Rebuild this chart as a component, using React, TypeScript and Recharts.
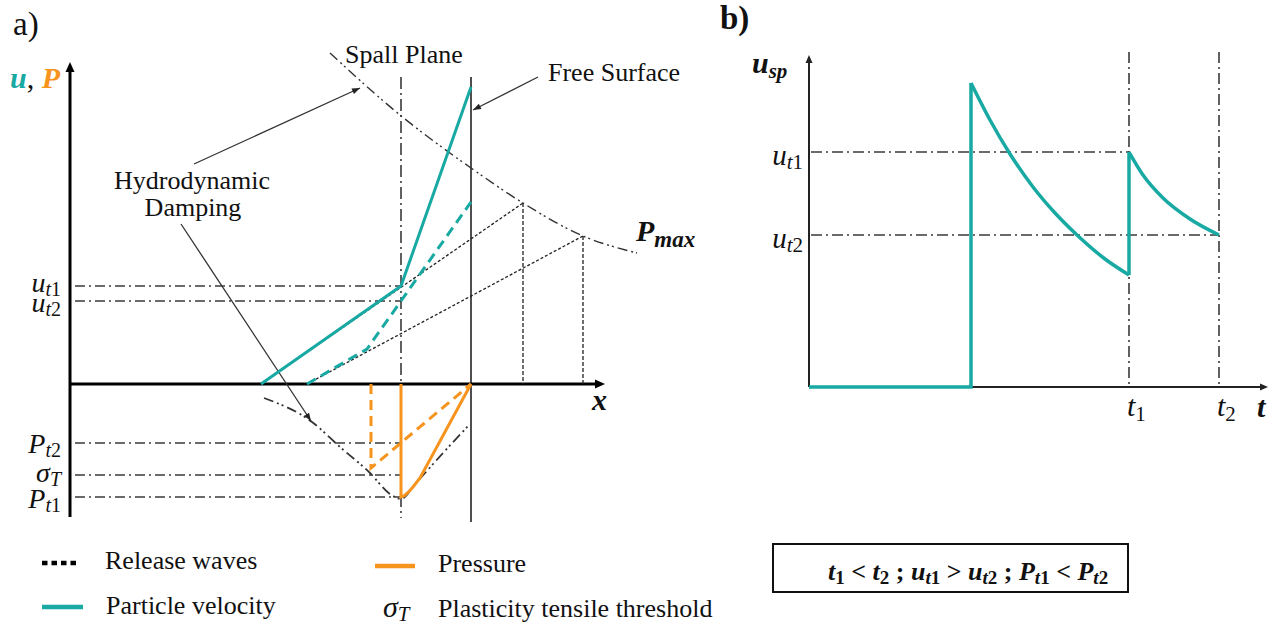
import React from 'react';
import { LineChart, Line, XAxis, YAxis, ReferenceLine, ReferenceDot } from 'recharts';

// ---------- Panel a) values (x: depth, y: u above axis, P below axis) ----------
const spallX = 331;
const freeSurfaceX = 401;
const velocitySolid = [{ x: 191, y: 0 }, { x: 331, y: 98 }, { x: 401, y: 297 }];
const velocityDashed = [{ x: 237, y: 0 }, { x: 297, y: 35 }, { x: 401, y: 182 }];
const releaseWave1 = [{ x: 191, y: 0 }, { x: 453, y: 181 }];
const releaseWave2 = [{ x: 237, y: 0 }, { x: 513, y: 148 }];
const releaseDrop1 = [{ x: 453, y: 181 }, { x: 453, y: 0 }];
const releaseDrop2 = [{ x: 513, y: 148 }, { x: 513, y: 0 }];
const pmaxCurve = [
  { x: 260, y: 331 }, { x: 330, y: 269 }, { x: 401, y: 216 },
  { x: 453, y: 181 }, { x: 513, y: 148 }, { x: 567, y: 131 },
];
const pressureSolid = [
  { x: 331, y: 0 }, { x: 331, y: -113 }, { x: 334, y: -112 }, { x: 338, y: -108.5 },
  { x: 343, y: -103 }, { x: 350, y: -94 }, { x: 401, y: 0 },
];
const pressureDashed = [{ x: 301, y: 0 }, { x: 301, y: -84 }, { x: 401, y: 0 }];
const dampingCurve = [
  { x: 194, y: -14 }, { x: 242, y: -38 }, { x: 270, y: -63 }, { x: 300, y: -89 },
  { x: 320, y: -110 }, { x: 331, y: -115 }, { x: 346, y: -99 }, { x: 373, y: -69 }, { x: 400, y: -40 },
];
const aLevels = [
  { id: 'ut1', main: 'u', sub: 't1', value: 98 },
  { id: 'ut2', main: 'u', sub: 't2', value: 83 },
  { id: 'pt2', main: 'P', sub: 't2', value: -59 },
  { id: 'sigmaT', main: 'σ', sub: 'T', value: -91 },
  { id: 'pt1', main: 'P', sub: 't1', value: -113 },
];
const aAnnotationArrows = [
  { id: 'toPmax', from: { x: 124, y: 220 }, to: { x: 290, y: 296 } },
  { id: 'toDamping', from: { x: 111, y: 160 }, to: { x: 241, y: -37 } },
  { id: 'toFree', from: { x: 468, y: 307 }, to: { x: 403, y: 274 } },
];

// ---------- Panel b) values ----------
const t1 = 320;
const t2 = 410;
const ut1 = 235;
const ut2 = 152;
const bStep = [{ x: 0, y: 0 }, { x: 162, y: 0 }, { x: 162, y: 304 }];
const bDecay1 = [
  { x: 162, y: 304 }, { x: 181, y: 267 }, { x: 201, y: 233 }, { x: 224, y: 200 },
  { x: 246, y: 174 }, { x: 268, y: 152 }, { x: 296, y: 128 }, { x: 320, y: 112 },
];
const bJump = [{ x: 320, y: 112 }, { x: 320, y: 235 }];
const bDecay2 = [{ x: 320, y: 235 }, { x: 334, y: 212 }, { x: 354, y: 189 }, { x: 381, y: 168 }, { x: 410, y: 152 }];
const bYLabels = [{ id: 'ut1', main: 'u', sub: 't1', value: ut1 }, { id: 'ut2', main: 'u', sub: 't2', value: ut2 }];
const bXLabels = [{ id: 't1', main: 't', sub: '1', value: t1 }, { id: 't2', main: 't', sub: '2', value: t2 }];

// ---------- styles ----------
const SERIF = "'Liberation Serif', 'DejaVu Serif', serif";
const TEAL = '#18a9a3';
const ORANGE = '#f7941d';
const GUIDE = '#3a3a3a';
const DASHDOT = '10 4 2 4';
const DASHDOTDOT = '10 4 2 3 2 4';
const aLabelNudge: Record<string, number> = { ut1: 6, ut2: 11, pt2: 10, sigmaT: 7, pt1: 11 };
const bLabelNudge: Record<string, number> = { ut1: 13, ut2: 13 };

type Seg = { t: string; sub?: boolean; upright?: boolean; fill?: string; bold?: boolean };

function MathText(props: { x: number; y: number; size: number; segs: Seg[]; anchor?: string; bold?: boolean; shift?: number; subScale?: number }) {
  const { x, y, size, segs, anchor = 'start', bold = false, shift = 5, subScale = 0.7 } = props;
  let cur = 0;
  return (
    <text x={x} y={y} textAnchor={anchor as any} fontFamily={SERIF} fontSize={size} fontWeight={bold ? 'bold' : 'normal'} fill="#111"
      style={{ whiteSpace: 'pre', fontFamily: SERIF }}>
      {segs.map((s, i) => {
        const target = s.sub ? shift : 0;
        const dy = target - cur;
        cur = target;
        return (
          <tspan key={i} dy={dy || undefined} fontSize={s.sub ? Math.round(size * subScale) : size}
            fontStyle={s.upright ? 'normal' : 'italic'} fill={s.fill} fontWeight={s.bold === undefined ? undefined : s.bold ? 'bold' : 'normal'}>
            {s.t}
          </tspan>
        );
      })}
    </text>
  );
}

function subSegs(main: string, sub: string): Seg[] {
  const out: Seg[] = [{ t: main }];
  for (const ch of sub) out.push({ t: ch, sub: true, upright: /[0-9]/.test(ch) });
  return out;
}

function arrowHead(dx: number, dy: number, len: number, half: number, color: string) {
  const a = Math.atan2(-dy, dx);
  return (p: any) => {
    const { cx, cy } = p;
    if (cx == null || cy == null) return <g />;
    const bx = cx - len * Math.cos(a);
    const by = cy - len * Math.sin(a);
    const px = -Math.sin(a) * half;
    const py = Math.cos(a) * half;
    return <polygon points={`${cx},${cy} ${bx + px},${by + py} ${bx - px},${by - py}`} fill={color} />;
  };
}

const lineCommon = { dot: false, activeDot: false, isAnimationActive: false, legendType: 'none' as const, dataKey: 'y' };

function PanelA() {
  return (
    <LineChart width={720} height={632} margin={{ top: 0, right: 0, bottom: 0, left: 0 }}>
      <XAxis type="number" dataKey="x" domain={[-70, 650]} hide allowDataOverflow />
      <YAxis type="number" dataKey="y" domain={[-248, 384]} hide allowDataOverflow width={0} />
      {aLevels.map((l) => (
        <ReferenceLine key={l.id} segment={[{ x: 5, y: l.value }, { x: spallX, y: l.value }]} stroke={GUIDE} strokeWidth={1.6} strokeDasharray={DASHDOT} ifOverflow="visible" />
      ))}
      <ReferenceLine segment={[{ x: spallX, y: 307 }, { x: spallX, y: -134 }]} stroke={GUIDE} strokeWidth={1.6} strokeDasharray="12 4 2 4" ifOverflow="visible" />
      <ReferenceLine segment={[{ x: freeSurfaceX, y: 307 }, { x: freeSurfaceX, y: -138 }]} stroke="#222" strokeWidth={1.6} ifOverflow="visible" />
      <ReferenceLine segment={[{ x: 0, y: -133 }, { x: 0, y: 316 }]} stroke="#000" strokeWidth={3} ifOverflow="visible" />
      <ReferenceLine segment={[{ x: 0, y: 0 }, { x: 528, y: 0 }]} stroke="#000" strokeWidth={3} ifOverflow="visible" />
      <ReferenceDot x={0} y={322} r={0} ifOverflow="visible" shape={arrowHead(0, 1, 10, 4.5, '#000')} />
      <ReferenceDot x={535} y={0} r={0} ifOverflow="visible" shape={arrowHead(1, 0, 10, 4.5, '#000')} />
      {aAnnotationArrows.map((a) => (
        <ReferenceLine key={a.id} segment={[a.from, a.to]} stroke="#333" strokeWidth={1.3} ifOverflow="visible" />
      ))}
      {aAnnotationArrows.map((a) => (
        <ReferenceDot key={a.id + 'h'} x={a.to.x} y={a.to.y} r={0} ifOverflow="visible"
          shape={arrowHead(a.to.x - a.from.x, a.to.y - a.from.y, 8, 3, '#222')} />
      ))}
      {aLevels.map((l) => (
        <ReferenceDot key={l.id + 'lab'} x={-9} y={l.value} r={0} ifOverflow="visible"
          shape={(p: any) => <MathText x={p.cx} y={p.cy + aLabelNudge[l.id]} size={28} subScale={0.72} anchor="end" shift={4} segs={subSegs(l.main, l.sub)} />} />
      ))}
      <Line {...lineCommon} data={pmaxCurve} type="monotone" stroke="#333" strokeWidth={1.4} strokeDasharray={DASHDOTDOT} />
      <Line {...lineCommon} data={dampingCurve} type="monotone" stroke="#333" strokeWidth={1.8} strokeDasharray={DASHDOTDOT} />
      <Line {...lineCommon} data={releaseDrop1} type="linear" stroke="#222" strokeWidth={1.3} strokeDasharray="4 2" />
      <Line {...lineCommon} data={releaseDrop2} type="linear" stroke="#222" strokeWidth={1.3} strokeDasharray="4 2" />
      <Line {...lineCommon} data={releaseWave1} type="linear" stroke="#222" strokeWidth={1.3} strokeDasharray="3 2" />
      <Line {...lineCommon} data={releaseWave2} type="linear" stroke="#222" strokeWidth={1.3} strokeDasharray="3 2" />
      <Line {...lineCommon} data={velocityDashed} type="linear" stroke={TEAL} strokeWidth={3} strokeDasharray="10 6" />
      <Line {...lineCommon} data={velocitySolid} type="linear" stroke={TEAL} strokeWidth={3} />
      <Line {...lineCommon} data={pressureDashed} type="linear" stroke={ORANGE} strokeWidth={3} strokeDasharray="10 6" />
      <Line {...lineCommon} data={pressureSolid} type="linear" stroke={ORANGE} strokeWidth={3} />
    </LineChart>
  );
}

function PanelB() {
  return (
    <LineChart width={562} height={632} margin={{ top: 0, right: 0, bottom: 0, left: 0 }}>
      <XAxis type="number" dataKey="x" domain={[-89, 473]} hide allowDataOverflow />
      <YAxis type="number" dataKey="y" domain={[-245, 387]} hide allowDataOverflow width={0} />
      <ReferenceLine segment={[{ x: 2, y: ut1 }, { x: t1, y: ut1 }]} stroke={GUIDE} strokeWidth={1.6} strokeDasharray="11 4 2 4" ifOverflow="visible" />
      <ReferenceLine segment={[{ x: 2, y: ut2 }, { x: t2, y: ut2 }]} stroke={GUIDE} strokeWidth={1.6} strokeDasharray="11 4 2 4" ifOverflow="visible" />
      <ReferenceLine segment={[{ x: t1, y: 335 }, { x: t1, y: 0 }]} stroke={GUIDE} strokeWidth={1.6} strokeDasharray="11 4 2 4" ifOverflow="visible" />
      <ReferenceLine segment={[{ x: t2, y: 335 }, { x: t2, y: 0 }]} stroke={GUIDE} strokeWidth={1.6} strokeDasharray="11 4 2 4" ifOverflow="visible" />
      <ReferenceLine segment={[{ x: 0, y: 0 }, { x: 0, y: 326 }]} stroke="#222" strokeWidth={2} ifOverflow="visible" />
      <ReferenceLine segment={[{ x: 0, y: 0 }, { x: 453, y: 0 }]} stroke="#222" strokeWidth={2} ifOverflow="visible" />
      <ReferenceDot x={0} y={332} r={0} ifOverflow="visible" shape={arrowHead(0, 1, 8, 3.5, '#222')} />
      <ReferenceDot x={459} y={0} r={0} ifOverflow="visible" shape={arrowHead(1, 0, 8, 3.5, '#222')} />
      {bYLabels.map((l) => (
        <ReferenceDot key={l.id} x={-6} y={l.value} r={0} ifOverflow="visible"
          shape={(p: any) => <MathText x={p.cx} y={p.cy + bLabelNudge[l.id]} size={29} subScale={0.72} anchor="end" shift={4} segs={subSegs(l.main, l.sub)} />} />
      ))}
      {bXLabels.map((l) => (
        <ReferenceDot key={l.id} x={l.value} y={0} r={0} ifOverflow="visible"
          shape={(p: any) => <MathText x={p.cx - 2} y={p.cy + 29} size={30} shift={5} segs={subSegs(l.main, l.sub)} />} />
      ))}
      <Line {...lineCommon} data={bStep} type="linear" stroke={TEAL} strokeWidth={3.5} />
      <Line {...lineCommon} data={bDecay1} type="monotone" stroke={TEAL} strokeWidth={3.5} />
      <Line {...lineCommon} data={bJump} type="linear" stroke={TEAL} strokeWidth={3.5} />
      <Line {...lineCommon} data={bDecay2} type="monotone" stroke={TEAL} strokeWidth={3.5} />
    </LineChart>
  );
}

function Overlay() {
  const t = (s: string, x: number, y: number, extra: any = {}) => (
    <text x={x} y={y} fontFamily={SERIF} fontSize={26} fill="#111" style={{ fontFamily: SERIF }} {...extra}>{s}</text>
  );
  const boxSegs: Seg[] = [
    { t: 't' }, { t: '1', sub: true, upright: true }, { t: ' < ', upright: true }, { t: 't' }, { t: '2', sub: true, upright: true },
    { t: ' ; ', upright: true }, { t: 'u' }, { t: 't', sub: true }, { t: '1', sub: true, upright: true },
    { t: ' > ', upright: true }, { t: 'u' }, { t: 't', sub: true }, { t: '2', sub: true, upright: true },
    { t: ' ; ', upright: true }, { t: 'P' }, { t: 't', sub: true }, { t: '1', sub: true, upright: true },
    { t: ' < ', upright: true }, { t: 'P' }, { t: 't', sub: true }, { t: '2', sub: true, upright: true },
  ];
  return (
    <svg width={1282} height={632} style={{ position: 'absolute', left: 0, top: 0, pointerEvents: 'none', fontFamily: SERIF }}>
      {t('a)', 13, 35, { fontSize: 33 })}
      {t('b)', 720, 29, { fontSize: 33, fontWeight: 'bold' })}
      <MathText x={10} y={88} size={30} bold segs={[{ t: 'u', fill: TEAL }, { t: ', ', upright: true, bold: false }, { t: 'P', fill: ORANGE }]} />
      {t('Spall Plane', 345, 63)}
      {t('Free Surface', 548, 81)}
      {t('Hydrodynamic', 192, 189, { textAnchor: 'middle' })}
      {t('Damping', 193, 216, { textAnchor: 'middle' })}
      <MathText x={636} y={241} size={30} bold shift={6} subScale={0.75} segs={[{ t: 'P' }, { t: 'max', sub: true }]} />
      <MathText x={592} y={410} size={30} bold segs={[{ t: 'x' }]} />
      <line x1={42} x2={77} y1={563} y2={563} stroke="#000" strokeWidth={4.5} strokeDasharray="5.5 4" />
      {t('Release waves', 105, 569)}
      <line x1={42} x2={83} y1={607} y2={607} stroke={TEAL} strokeWidth={4.5} />
      {t('Particle velocity', 106, 614)}
      <line x1={375} x2={415} y1={566} y2={566} stroke={ORANGE} strokeWidth={4.5} />
      {t('Pressure', 438, 572)}
      <MathText x={383} y={617} size={30} shift={4} segs={subSegs('σ', 'T')} />
      {t('Plasticity tensile threshold', 438, 617)}
      <MathText x={752} y={73} size={30} bold shift={5} segs={[{ t: 'u' }, { t: 'sp', sub: true }]} />
      <MathText x={1257} y={417} size={30} bold segs={[{ t: 't' }]} />
      <rect x={773} y={544} width={355} height={48} fill="none" stroke="#111" strokeWidth={2} />
      <MathText x={828} y={580} size={26} bold shift={4} subScale={0.72} segs={boxSegs} />
    </svg>
  );
}

export default function App() {
  return (
    <div style={{ position: 'absolute', left: 0, top: 0, width: 1282, height: 632, background: '#fff', overflow: 'hidden', fontFamily: SERIF }}>
      <div style={{ position: 'absolute', left: 0, top: 0 }}>
        <PanelA />
      </div>
      <div style={{ position: 'absolute', left: 720, top: 0 }}>
        <PanelB />
      </div>
      <Overlay />
    </div>
  );
}
